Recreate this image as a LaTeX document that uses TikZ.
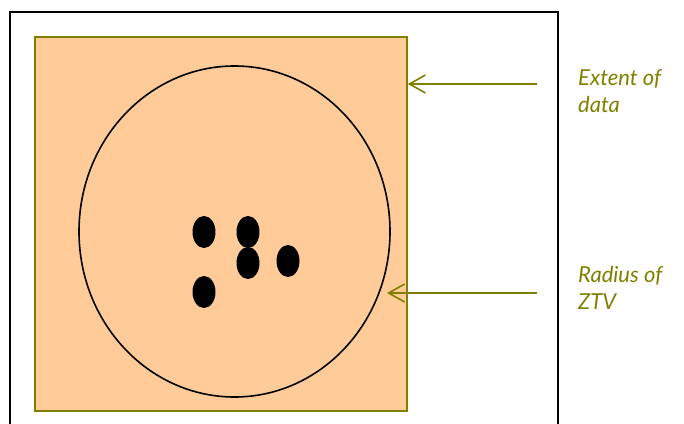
\documentclass[tikz,border=0pt]{standalone}
\usepackage{fontspec}
\setmainfont{Lato}
\usepackage{xcolor}
\usetikzlibrary{arrows.meta}

\definecolor{olivegreen}{HTML}{808000}
\definecolor{tanfill}{HTML}{FFCC99}

\begin{document}
\begin{tikzpicture}[x=1pt, y=-1pt,
  frame/.style={draw=black, line width=2pt},
  extent/.style={draw=olivegreen, fill=tanfill, line width=1.6pt},
  ztv/.style={draw=black, line width=1.6pt},
  lbl/.style={font=\itshape\fontsize{22}{27}\selectfont, text=olivegreen,
    align=left, anchor=base west, inner sep=0pt},
  arr/.style={-{Straight Barb[length=16pt, width=18pt, line width=1.6pt]},
    draw=olivegreen, line width=1.6pt}
]
\useasboundingbox (0,0) rectangle (684,423);
% outer frame, open at the bottom
\draw[frame] (10,430) -- (10,12) -- (558,12) -- (558,430);

% extent of data and zone of visibility
\node[extent, minimum width=372pt, minimum height=374pt, inner sep=0pt] (box) at (221,224) {};
\draw[ztv] (234.5,231.5) ellipse [x radius=155.5, y radius=165.5];

% observer points
\fill (204,232) ellipse [x radius=11.5, y radius=16];
\fill (248,232) ellipse [x radius=11.5, y radius=16];
\fill (248,263) ellipse [x radius=11.5, y radius=16];
\fill (288,261) ellipse [x radius=11.5, y radius=16];
\fill (204,292) ellipse [x radius=11.5, y radius=16];

% labels (base = last line)
\node[lbl] (extlbl) at (578,112) {Extent of\\data};
\node[lbl] (radlbl) at (578,309) {Radius of\\ZTV};

\coordinate (a1s) at (537,84);
\coordinate (a2s) at (537,293);
\coordinate (a2e) at (387,293);
\draw[arr] (a1s) -- (box.east |- a1s);
\draw[arr] (a2s) -- (a2e);
\end{tikzpicture}
\end{document}
